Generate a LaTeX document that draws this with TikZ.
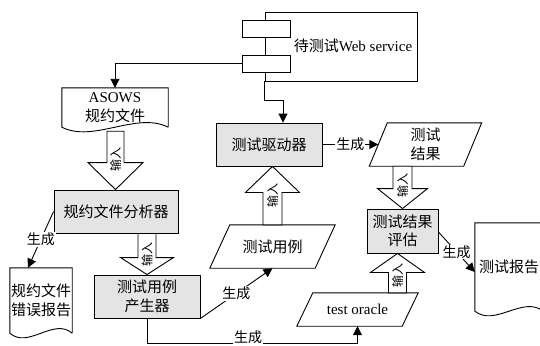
\documentclass[tikz,border=0pt]{standalone}
\usepackage{fontspec}
\setmainfont{Liberation Serif}
\newfontfamily\cjk{Noto Sans CJK SC}
\usetikzlibrary{arrows.meta,calc}
\definecolor{boxgray}{RGB}{228,228,228}
\newcommand\zh[1]{{\cjk #1}}
\tikzset{
  ln/.style={line width=0.9pt},
  arr/.style={ln,-{Triangle[length=9pt,width=9pt]}},
  txt/.style={inner sep=0pt, align=center, font=\fontsize{15}{18.5}\selectfont},
  cjktxt/.style={inner sep=0pt, align=center, font=\cjk\fontsize{15}{18.5}\selectfont},
  box/.style 2 args={cjktxt, draw, ln, fill=boxgray, minimum width=#1, minimum height=#2},
  shp/.style 2 args={minimum width=#1, minimum height=#2},
  lab/.style={fill=white, inner sep=1pt, font=\cjk\fontsize{14}{16}\selectfont},
  inlab/.style={inner sep=0pt, rotate=90, font=\cjk\fontsize{12}{13}\selectfont},
  blk/.style={ln, fill=white, line join=miter},
}
% block arrows: #1 start, #2 tip, #3 shaft half width, #4 head half width, #5 head length, #6 label name
\newcommand\bdown[6]{\draw[blk] let \p1=(#1), \p2=(#2) in
  (\x1-#3,\y1) -- (\x1+#3,\y1) -- (\x1+#3,\y2+#5) -- (\x1+#4,\y2+#5) -- (\x1,\y2)
  -- (\x1-#4,\y2+#5) -- (\x1-#3,\y2+#5) -- cycle
  node[inlab] (#6) at (\x1,\y2+#5+3pt) {输入};}
\newcommand\bup[6]{\draw[blk] let \p1=(#1), \p2=(#2) in
  (\x1-#3,\y1) -- (\x1+#3,\y1) -- (\x1+#3,\y2-#5) -- (\x1+#4,\y2-#5) -- (\x1,\y2)
  -- (\x1-#4,\y2-#5) -- (\x1-#3,\y2-#5) -- cycle
  node[inlab] (#6) at (\x1,\y2-#5-3pt) {输入};}
\newcommand\docout[2]{\draw[ln] (#1.south east) -- (#1.north east) -- (#1.north west) -- (#1.south west)
  .. controls ($(#1.south west)+(#2*0.3,16)$) and ($(#1.south east)+(-#2*0.3,-16)$) .. (#1.south east);}
\newcommand\paraout[2]{\draw[ln] ([xshift=#2]#1.north west) -- ([xshift=#2]#1.north east)
  -- ([xshift=-#2]#1.south east) -- ([xshift=-#2]#1.south west) -- cycle;}
\begin{document}
\begin{tikzpicture}[x=1pt,y=-1pt]
\useasboundingbox (0,0) rectangle (540,345);
% web service component
\node[draw, ln, minimum width=152pt, minimum height=69pt, inner sep=0pt] (ws) at (341,46.5) {};
\node[draw, ln, fill=white, minimum width=48pt, minimum height=17pt, inner sep=0pt] (p1) at (266,29) {};
\node[draw, ln, fill=white, minimum width=48pt, minimum height=17pt, inner sep=0pt] (p2) at (266,63.5) {};
\node[txt] (wst) at (353,46) {\zh{待测试}Web service};
% documents
\node[txt, shp={106pt}{39pt}] (asows) at (115,107.5) {ASOWS\\\zh{规约文件}};
\docout{asows}{106}
\node[cjktxt, shp={62pt}{65pt}] (err) at (41,300.5) {规约文件\\错误报告};
\docout{err}{62}
\node[cjktxt, shp={68pt}{88pt}] (rep) at (509,267) {测试报告};
\docout{rep}{68}
% boxes
\node[box={124pt}{43pt}] (fa) at (116,211.5) {规约文件分析器};
\node[box={106pt}{43pt}] (gen) at (147,296.5) {测试用例\\产生器};
\node[box={106pt}{43pt}] (driver) at (269,144.5) {测试驱动器};
\node[box={71pt}{44pt}] (eval) at (402.5,231) {测试结果\\评估};
% parallelograms
\node[cjktxt, shp={94pt}{43pt}] (result) at (425.5,144.5) {测试\\结果};
\paraout{result}{9pt}
\node[cjktxt, shp={105pt}{43pt}] (cases) at (272.5,246.5) {测试用例};
\paraout{cases}{10pt}
\node[txt, shp={105pt}{33pt}] (oracle) at (357.5,309.5) {test oracle};
\paraout{oracle}{8pt}
% block arrows
\bdown{$(asows.south)+(0.5,4)$}{$(asows.south |- fa.north)+(0.5,0)$}{8.5pt}{27.5pt}{27pt}{in1}
\bdown{gen.north |- fa.south}{gen.north}{9pt}{26.5pt}{17pt}{in2}
\bdown{eval.north |- result.south}{eval.north}{9.5pt}{25pt}{20pt}{in3}
\bup{$(eval.south |- oracle.north)+(-5,0)$}{$(eval.south)+(-5,0)$}{9pt}{27pt}{19pt}{in4}
\bup{cases.north}{cases.north |- driver.south}{9.5pt}{27pt}{26pt}{in5}
% connectors
\draw[arr] (p2.west) -| (asows.north);
\draw[arr] (ws.south west) -- ++(0,19) -| ([xshift=14pt]driver.north);
\draw[arr] (driver.east) -- node[lab] (l1) {生成} (result.west);
\draw[arr] (fa.west) -- node[lab] (l2) {生成} ([xshift=-13pt]err.north);
\draw[arr] (gen.south east) -- node[lab] (l3) {生成} (cases.south);
\draw[arr] ([yshift=-1pt]eval.east) -- node[lab] (l4) {生成} ([yshift=-5pt]rep.west);
\draw[arr] (gen.south) -- ++(0,25) -| node[lab,pos=0.24,yshift=6pt] (l5) {生成} (oracle.south);
\end{tikzpicture}
\end{document}
